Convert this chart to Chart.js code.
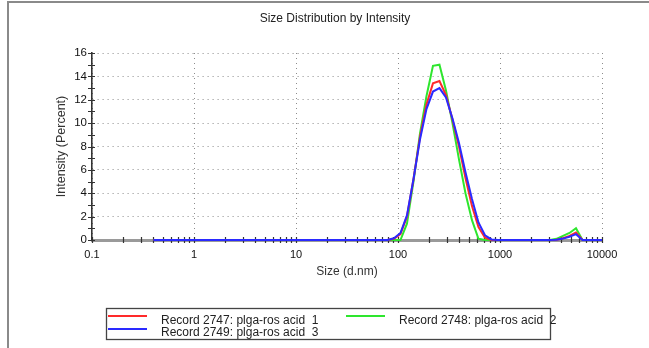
<!DOCTYPE html>
<html>
<head>
<meta charset="utf-8">
<script src="https://cdn.jsdelivr.net/npm/chart.js@4/dist/chart.umd.min.js"></script>
<style>
  html, body { margin: 0; padding: 0; background: #fff; overflow: hidden; }
  #wrap { position: relative; width: 649px; height: 348px; }
  #frame { position: absolute; left: 7px; top: 1px; width: 700px; height: 400px;
           border-left: 2px solid #8a8a8a; border-top: 2px solid #8a8a8a; pointer-events: none; }
  canvas { position: absolute; left: 0; top: 0; }
</style>
</head>
<body>
<div id="wrap">
  <canvas id="c" width="649" height="348"></canvas>
  <div id="frame"></div>
</div>
<script>
// ---- data ----
const sizes = [0.4, 0.4632, 0.5365, 0.6213, 0.7195, 0.8332, 0.9649, 1.117, 1.294, 1.499,
  1.736, 2.01, 2.328, 2.696, 3.122, 3.615, 4.187, 4.849, 5.615, 6.503,
  7.531, 8.721, 10.1, 11.7, 13.54, 15.69, 18.17, 21.04, 24.36, 28.21,
  32.67, 37.84, 43.82, 50.75, 58.77, 68.06, 78.82, 91.28, 105.7, 122.4,
  141.8, 164.2, 190.1, 220.2, 255, 295.3, 342, 396.1, 458.7, 531.2,
  615.1, 712.4, 825, 955.4, 1106, 1281, 1484, 1718, 1990, 2305,
  2669, 3091, 3580, 4145, 4801, 5560, 6439, 7456, 8635, 10000];

const record2747 = [0,0,0,0,0,0,0,0,0,0,
  0,0,0,0,0,0,0,0,0,0,
  0,0,0,0,0,0,0,0,0,0,
  0,0,0,0,0,0,0,0.1,0.5,2.0,
  5.2,8.8,11.6,13.4,13.6,12.4,10.3,8.0,5.3,2.9,
  1.1,0.2,0,0,0,0,0,0,0,0,
  0,0,0.03,0.15,0.35,0.65,0,0,0,0];

const record2748 = [0,0,0,0,0,0,0,0,0,0,
  0,0,0,0,0,0,0,0,0,0,
  0,0,0,0,0,0,0,0,0,0,
  0,0,0,0,0,0,0,0,0,1.4,
  5.0,9.1,12.3,14.9,15.0,12.8,10.0,6.9,4.0,1.7,
  0.1,0,0,0,0,0,0,0,0,0,
  0,0,0.1,0.35,0.6,1.0,0,0,0,0];

const record2749 = [0,0,0,0,0,0,0,0,0,0,
  0,0,0,0,0,0,0,0,0,0,
  0,0,0,0,0,0,0,0,0,0,
  0,0,0,0,0,0,0,0.15,0.6,2.1,
  5.2,8.6,11.2,12.7,13.0,12.2,10.4,8.3,5.8,3.5,
  1.5,0.4,0.05,0,0,0,0,0,0,0,
  0,0,0.02,0.12,0.28,0.5,0,0,0,0];

const seriesLabels = ['Record 2747: plga-ros acid  1', 'Record 2748: plga-ros acid  2', 'Record 2749: plga-ros acid  3'];
const xDecades = [0.1, 1, 10, 100, 1000, 10000];
const xDecadeLabels = ['0.1', '1', '10', '100', '1000', '10000'];
const xMinorMultipliers = [2, 3, 4, 5, 6, 7, 8, 9];
const yMin = 0, yMax = 16, yStep = 1;

const titleText = 'Size Distribution by Intensity';
const xTitle = 'Size (d.nm)';
const yTitle = 'Intensity (Percent)';

// ---- chart ----
const FONT = "'Liberation Sans', Arial, sans-serif";
const xTickValues = [];
xDecades.forEach((d, i) => {
  xTickValues.push(d);
  if (i < xDecades.length - 1) xMinorMultipliers.forEach(m => xTickValues.push(m * d));
});

const toPts = arr => sizes.map((s, i) => ({ x: s, y: arr[i] }));

const tickMarks = {
  id: 'tickMarks',
  beforeDatasetsDraw(chart) {
    const { ctx, chartArea, scales } = chart;
    ctx.save();
    ctx.strokeStyle = '#333';
    ctx.lineWidth = 1.2;
    ctx.beginPath();
    scales.y.ticks.forEach(t => {
      const p = Math.round(scales.y.getPixelForValue(t.value)) + 0.5;
      ctx.moveTo(chartArea.left - 4, p);
      ctx.lineTo(chartArea.left + 3, p);
    });
    scales.x.ticks.forEach(t => {
      const p = Math.round(scales.x.getPixelForValue(t.value)) + 0.5;
      ctx.moveTo(p, chartArea.bottom - 3);
      ctx.lineTo(p, chartArea.bottom + 3);
    });
    ctx.stroke();
    ctx.restore();
  }
};

const titleAndLegend = {
  id: 'titleAndLegend',
  afterDraw(chart) {
    const { ctx } = chart;
    ctx.save();
    ctx.fillStyle = '#222';
    ctx.font = '12px ' + FONT;
    ctx.textAlign = 'center';
    ctx.textBaseline = 'middle';
    ctx.fillText(titleText, 335, 19);

    // legend box
    const bx = 106.5, by = 308.5, bw = 444, bh = 31;
    ctx.strokeStyle = '#444';
    ctx.lineWidth = 1.3;
    ctx.strokeRect(bx, by, bw, bh);
    ctx.textAlign = 'left';
    ctx.textBaseline = 'alphabetic';
    ctx.font = '12px ' + FONT;
    chart.data.datasets.forEach((ds, i) => {
      const col = i % 2, row = Math.floor(i / 2);
      const x0 = 108 + col * 238;
      const ly = 316 + row * 13;
      ctx.strokeStyle = ds.borderColor;
      ctx.lineWidth = 1.8;
      ctx.beginPath();
      ctx.moveTo(x0, ly);
      ctx.lineTo(x0 + 39, ly);
      ctx.stroke();
      ctx.fillStyle = '#222';
      ctx.fillText(ds.label, x0 + 53, 324 + row * 12);
    });
    ctx.restore();
  }
};

new Chart(document.getElementById('c'), {
  type: 'line',
  data: {
    datasets: [
      { label: seriesLabels[0], data: toPts(record2747), borderColor: '#ff2a2a', order: 1, clip: false },
      { label: seriesLabels[1], data: toPts(record2748), borderColor: '#2ee62e', order: 2, clip: false },
      { label: seriesLabels[2], data: toPts(record2749), borderColor: '#2a2aff', order: 0, clip: false }
    ]
  },
  options: {
    responsive: false,
    animation: false,
    layout: { padding: { left: 0, right: 47, top: 53, bottom: 68 } },
    elements: {
      line: { borderWidth: 2, tension: 0, fill: false },
      point: { radius: 0, hoverRadius: 0 }
    },
    plugins: {
      legend: { display: false },
      title: { display: false },
      tooltip: { enabled: false }
    },
    scales: {
      x: {
        type: 'logarithmic',
        min: 0.1,
        max: 10000,
        afterBuildTicks: (scale) => { scale.ticks = xTickValues.map(v => ({ value: v })); },
        afterFit: (scale) => { scale.height = 40; },
        ticks: {
          autoSkip: false,
          maxRotation: 0,
          padding: 8,
          color: '#111',
          font: { family: FONT, size: 11 },
          callback: (v) => { const k = xDecades.indexOf(v); return k >= 0 ? xDecadeLabels[k] : ''; }
        },
        grid: {
          drawTicks: false,
          lineWidth: 1,
          color: (c) => (c.tick && xDecades.includes(c.tick.value)) ? '#8c8c8c' : 'rgba(0,0,0,0)'
        },
        border: { display: true, color: '#9a9a9a', width: 3, dash: [1, 4] },
        title: {
          display: true, text: xTitle, color: '#333',
          font: { family: FONT, size: 12 }, padding: { top: 0, bottom: 0.8 }
        }
      },
      y: {
        type: 'linear',
        min: yMin,
        max: yMax,
        afterFit: (scale) => { scale.width = 92; },
        ticks: {
          stepSize: yStep,
          autoSkip: false,
          padding: 5,
          color: '#111',
          font: { family: FONT, size: 11.5 },
          callback: (v) => (v % 2 === 0 ? String(v) : '')
        },
        grid: {
          drawTicks: false,
          lineWidth: 1,
          color: (c) => (c.tick && c.tick.value % 2 === 0 && c.tick.value !== 0) ? '#8c8c8c' : 'rgba(0,0,0,0)'
        },
        border: { display: true, color: '#333', width: 1.6, dash: [1, 4] },
        title: {
          display: true, text: yTitle, color: '#333',
          font: { family: FONT, size: 12.5 }, padding: { top: 54.5, bottom: 0 }
        }
      }
    }
  },
  plugins: [tickMarks, titleAndLegend]
});
</script>
</body>
</html>
